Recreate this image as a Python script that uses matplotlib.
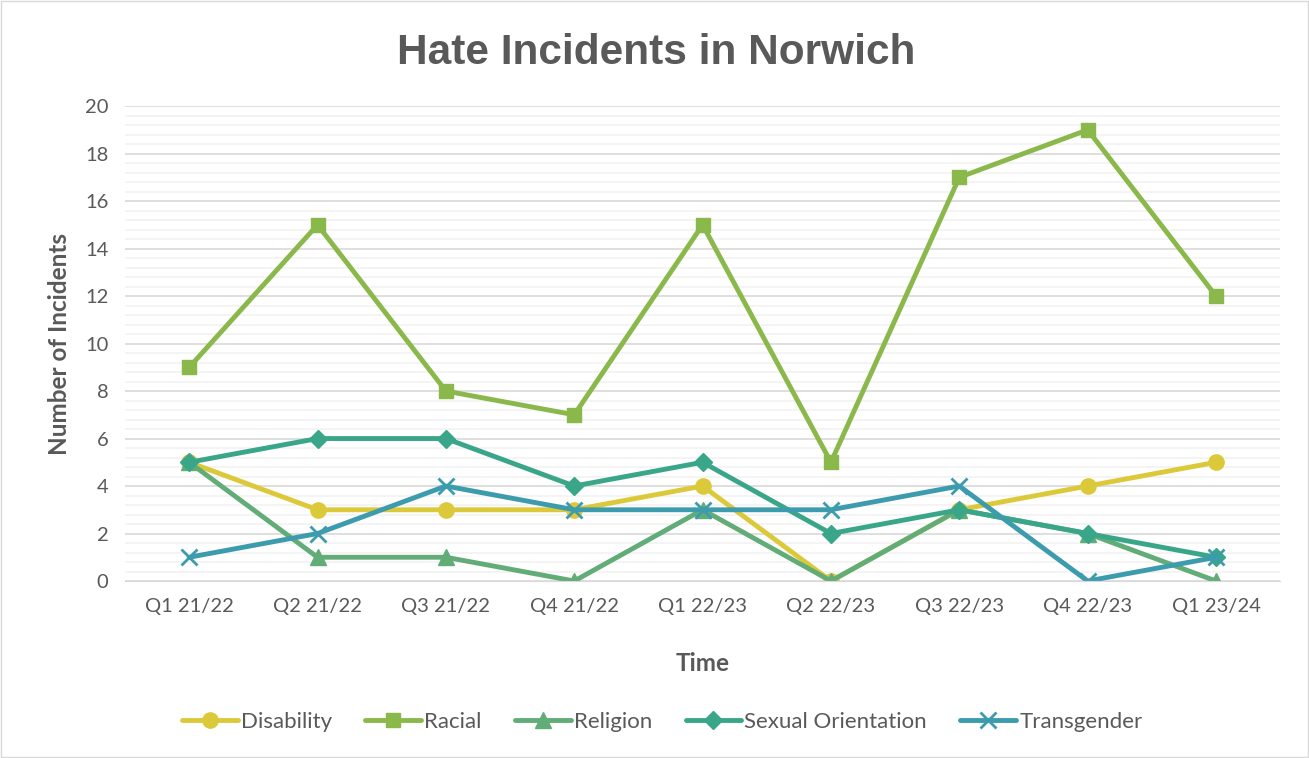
import matplotlib.pyplot as plt
from matplotlib.ticker import MultipleLocator

quarters = ["Q1 21/22", "Q2 21/22", "Q3 21/22", "Q4 21/22", "Q1 22/23",
            "Q2 22/23", "Q3 22/23", "Q4 22/23", "Q1 23/24"]
disability = [5, 3, 3, 3, 4, 0, 3, 4, 5]
racial = [9, 15, 8, 7, 15, 5, 17, 19, 12]
religion = [5, 1, 1, 0, 3, 0, 3, 2, 0]
sexual_orientation = [5, 6, 6, 4, 5, 2, 3, 2, 1]
transgender = [1, 2, 4, 3, 3, 3, 4, 0, 1]

series = [
    ("Disability", disability, "#DCC93A", "o", 11),
    ("Racial", racial, "#8AB84A", "s", 10),
    ("Religion", religion, "#62AC78", "^", 11),
    ("Sexual Orientation", sexual_orientation, "#3AA689", "D", 9),
    ("Transgender", transgender, "#3C9CAE", "x", 11),
]

plt.rcParams["font.family"] = ["Lato", "DejaVu Sans"]
text_grey = "#595959"

fig = plt.figure(figsize=(13.09, 7.58), dpi=100)
ax = fig.add_axes([0.0955, 0.2335, 0.8825, 0.6265])

x = list(range(len(quarters)))
for name, vals, col, mk, ms in series:
    ax.plot(x, vals, color=col, lw=3.5, marker=mk, markersize=ms,
            markeredgewidth=2 if mk == "x" else 1, markeredgecolor=col,
            label=name, solid_capstyle="round")

ax.set_xlim(-0.5, len(quarters) - 0.5)
ax.set_ylim(0, 20)
ax.yaxis.set_major_locator(MultipleLocator(2))
ax.yaxis.set_minor_locator(MultipleLocator(0.4))
ax.set_xticks(x)
ax.set_xticklabels(quarters)
ax.grid(axis="y", which="major", color="#D9D9D9", lw=1.2)
ax.grid(axis="y", which="minor", color="#F2F2F2", lw=1.2)
ax.set_axisbelow(True)
for s in ["top", "right", "left"]:
    ax.spines[s].set_visible(False)
ax.spines["bottom"].set_color("#D9D9D9")
ax.tick_params(axis="both", which="both", length=0, labelsize=14.5,
               labelcolor=text_grey, pad=12)

ax.set_xlabel("Time", fontsize=17.5, fontweight="bold", color=text_grey, labelpad=27)
ax.set_ylabel("Number of Incidents", fontsize=17.5, fontweight="bold",
              color=text_grey, labelpad=10)
fig.suptitle("Hate Incidents in Norwich", x=0.501, y=0.957, fontsize=30.5,
             fontweight="bold", color=text_grey, family="Liberation Sans")

fig.legend(loc="center", bbox_to_anchor=(0.506, 0.048), ncol=5, frameon=False,
           fontsize=16, labelcolor=text_grey, handlelength=2.5,
           columnspacing=1.5, handletextpad=0.15)

fig.patches.append(plt.Rectangle((0.001, 0.001), 0.998, 0.998, transform=fig.transFigure,
                                 fill=False, edgecolor="#D9D9D9", lw=1))

fig.savefig("out.png", dpi=100)
